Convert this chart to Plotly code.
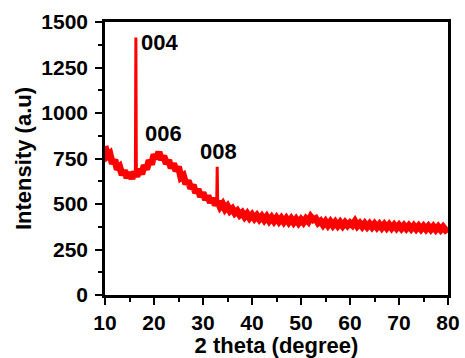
import plotly.graph_objects as go

# broad background (noisy band) of the XRD pattern
two_theta = [10.0, 10.5, 11.0, 11.5, 12.0, 12.5, 13.0, 13.5, 14.0, 14.5, 15.0, 15.5, 16.0,
             16.5, 17.0, 17.5, 18.0, 18.5, 19.0, 19.5, 20.0, 20.5, 21.0, 21.5, 22.0, 22.5,
             23.0, 23.5, 24.0, 24.5, 25.0, 25.5, 26.0, 26.5, 27.0, 27.5, 28.0, 28.5, 29.0,
             29.5, 30.0, 30.5, 31.0, 31.5, 32.0, 32.5, 33.0,
             33.5, 34.0, 34.5, 35.0, 35.5, 36.0, 36.5, 37.0, 37.5, 38.0, 38.5, 39.0, 39.5,
             40.0, 40.5, 41.0, 41.5, 42.0, 42.5, 43.0, 43.5, 44.0, 44.5, 45.0, 45.5, 46.0,
             46.5, 47.0, 47.5, 48.0, 48.5, 49.0, 49.5, 50.0, 50.5, 51.0, 51.5, 52.0, 52.5,
             53.0, 53.5, 54.0, 54.5, 55.0, 55.5, 56.0, 56.5, 57.0, 57.5, 58.0, 58.5, 59.0,
             59.5, 60.0, 60.5, 61.0, 61.5, 62.0, 62.5, 63.0, 63.5, 64.0, 64.5, 65.0, 65.5,
             66.0, 66.5, 67.0, 67.5, 68.0, 68.5, 69.0, 69.5, 70.0, 70.5, 71.0, 71.5, 72.0,
             72.5, 73.0, 73.5, 74.0, 74.5, 75.0, 75.5, 76.0, 76.5, 77.0, 77.5, 78.0, 78.5,
             79.0, 79.5, 80.0]

intensity = [818, 764, 776, 722, 742, 690, 704, 660, 684, 644, 672, 640, 676,
             652, 690, 664, 712, 690, 740, 718, 772, 748, 786, 744, 764, 722,
             740, 698, 722, 682, 704, 646, 656, 610, 628, 586, 604, 562, 580,
             540, 562, 524, 546, 508, 530, 494, 514,
             484, 500, 472, 488, 462, 474, 450, 462, 440, 452, 430, 446, 424,
             440, 420, 436, 416, 432, 412, 430, 408, 426, 406, 424, 404, 422,
             402, 420, 400, 418, 398, 416, 396, 414, 398, 418, 404, 430, 414,
             420, 396, 406, 386, 404, 384, 402, 382, 400, 381, 399, 380, 398,
             382, 396, 384, 404, 380, 394, 376, 393, 375, 391, 373, 390, 372,
             388, 370, 387, 369, 386, 368, 384, 367, 383, 366, 382, 365, 381,
             364, 380, 363, 379, 362, 378, 361, 377, 360, 376, 359, 375, 358,
             374, 357, 366]

# sharp reflections
peak_004_x = [16.2, 16.3, 16.4]
peak_004_y = [662, 1415, 666]
peak_008_x = [32.8, 32.9, 33.0]
peak_008_y = [506, 705, 504]

peak_labels = ["004", "006", "008"]
label_x = [16.9, 21.9, 33.2]
label_y = [1390, 888, 790]
label_anchor = ["left", "center", "center"]

x_ticks = [10, 20, 30, 40, 50, 60, 70, 80]
y_ticks = [0, 250, 500, 750, 1000, 1250, 1500]

font_family = "Liberation Sans, Arial, sans-serif"
red = "#ff0000"

fig = go.Figure()
fig.add_trace(go.Scatter(x=two_theta, y=intensity, mode="lines",
                         line=dict(color=red, width=7), showlegend=False))
fig.add_trace(go.Scatter(x=peak_004_x, y=peak_004_y, mode="lines",
                         line=dict(color=red, width=3), showlegend=False))
fig.add_trace(go.Scatter(x=peak_008_x, y=peak_008_y, mode="lines",
                         line=dict(color=red, width=3), showlegend=False))

for t, xx, yy, anc in zip(peak_labels, label_x, label_y, label_anchor):
    fig.add_annotation(x=xx, y=yy, text="<b>%s</b>" % t, showarrow=False,
                       xanchor=anc, yanchor="middle",
                       font=dict(family=font_family, size=22, color="black"))

axis_common = dict(showline=True, linecolor="black", linewidth=2.5, mirror=True,
                   ticks="outside", ticklen=7, tickwidth=2, tickcolor="black",
                   showgrid=False, zeroline=False, automargin=False,
                   tickfont=dict(family=font_family, size=21, color="black"),
                   title_font=dict(family=font_family, size=22, color="black"))

fig.update_xaxes(range=[10, 80], tickvals=x_ticks,
                 ticktext=["<b>%d</b>" % v for v in x_ticks],
                 minor=dict(ticks="outside", dtick=5, ticklen=4, tickwidth=2, tickcolor="black"),
                 title=dict(text="<b>2 theta (degree)</b>", standoff=0),
                 **axis_common)
fig.update_yaxes(range=[0, 1500], tickvals=y_ticks,
                 ticktext=["<b>%d</b>" % v for v in y_ticks],
                 minor=dict(ticks="outside", dtick=125, ticklen=4, tickwidth=2, tickcolor="black"),
                 title=dict(text="<b>Intensity (a.u)</b>", standoff=4),
                 ticklabelstandoff=3,
                 **axis_common)

fig.update_layout(width=465, height=358, margin=dict(l=105, r=17, t=22, b=63),
                  paper_bgcolor="white", plot_bgcolor="white")

fig.write_html("out.html")
